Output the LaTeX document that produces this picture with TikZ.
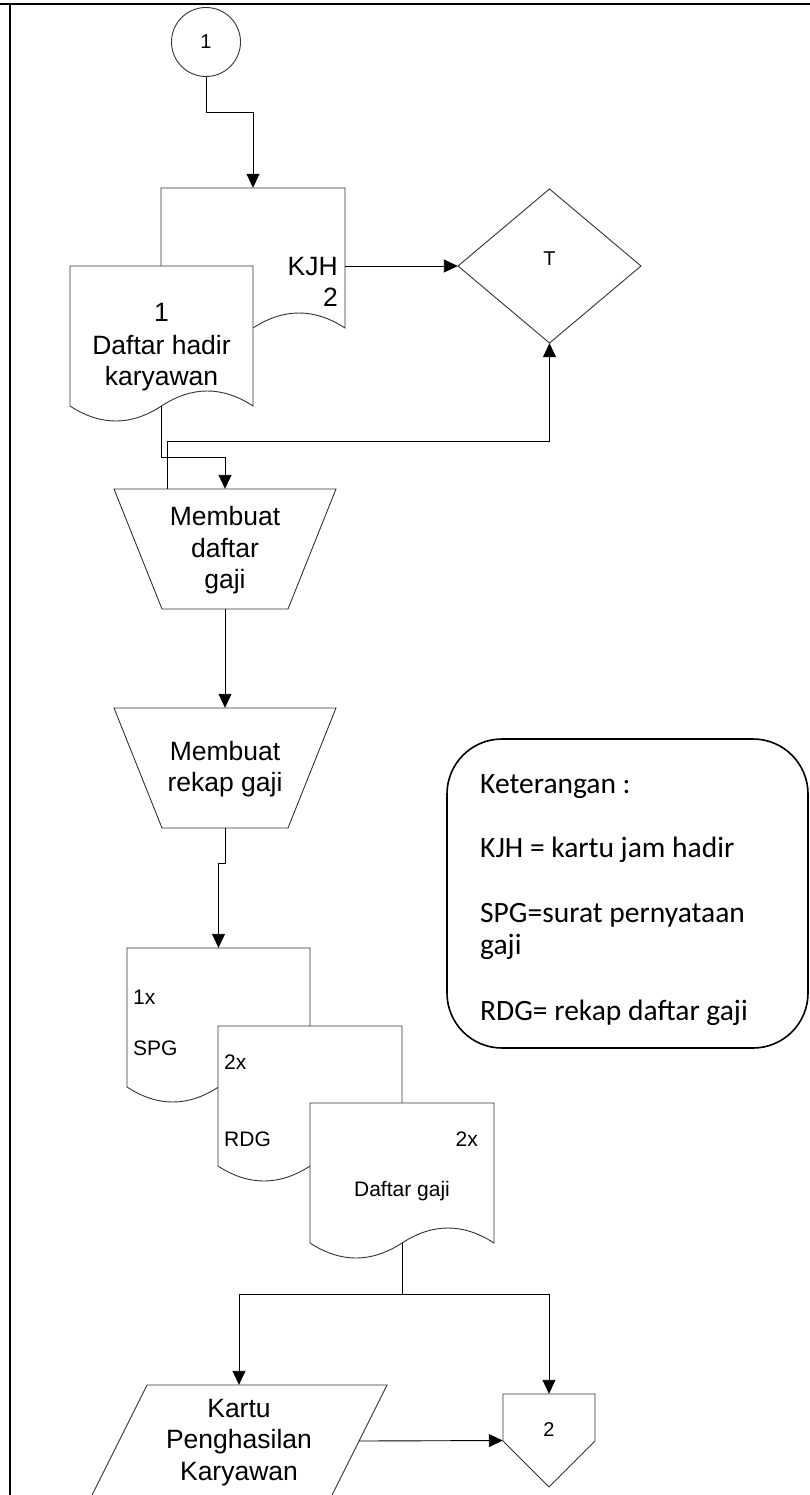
\documentclass[tikz,border=0pt]{standalone}
\usepackage{fontspec}
\setmainfont{Liberation Sans}
\newfontfamily\legendfont{Carlito}
\usetikzlibrary{arrows.meta,fit}

\tikzset{
  shapeline/.style={draw=black!80, line width=0.9pt},
  link/.style={draw=black, line width=0.9pt},
  conn/.style={link, -{Triangle[length=14pt,width=13pt]}},
  bigtxt/.style={font=\fontsize{26.5}{30}\selectfont, inner sep=0pt},
  smalltxt/.style={font=\fontsize{21}{24}\selectfont, inner sep=0pt},
  tinytxt/.style={font=\fontsize{20}{22}\selectfont, inner sep=0pt},
  legtxt/.style={font=\legendfont\fontsize{29.5}{34}\selectfont, inner sep=0pt, anchor=base west},
  box/.style={inner sep=0pt},
}

% document symbol: name, left, top, right, wave base line, wave amplitude
\newcommand{\docshape}[6]{%
  \draw[shapeline, fill=white] (#2,#3) -- (#4,#3) -- (#4,#5)
    .. controls ({#4-(#4-#2)/6},{#5-4*#6/3}) and ({#4-(#4-#2)/3},{#5-4*#6/3}) .. ({(#2+#4)/2},#5)
    .. controls ({#2+(#4-#2)/3},{#5+4*#6/3}) and ({#2+(#4-#2)/6},{#5+4*#6/3}) .. (#2,#5) -- cycle;
  \node[box, fit={(#2,#3) (#4,#5)}] (#1) {};
}

\begin{document}
\begin{tikzpicture}[x=1pt, y=-1pt]
  \useasboundingbox (0,0) rectangle (810,1495);
  \clip (0,0) rectangle (810,1495);

  % page frame
  \draw[line width=2pt] (0,4) -- (810,4);
  \draw[line width=2pt] (10,4) -- (10,1495);

  % connector 1
  \node[shapeline, circle, minimum size=69pt, inner sep=0pt, tinytxt] (c1) at (206,42) {1};

  % attendance card and attendance list
  \docshape{kjh}{161}{188}{345}{328}{15}
  \node[bigtxt, anchor=base east] (kjhA) at (338,276) {KJH};
  \node[bigtxt, anchor=base east] (kjhB) at (338,307) {2};

  \docshape{doc1}{70}{266}{253}{406}{15}
  \node[bigtxt, anchor=base] (doc1A) at (161.5,322) {1};
  \node[bigtxt, anchor=base] (doc1B) at (161.5,354) {Daftar hadir};
  \node[bigtxt, anchor=base] (doc1C) at (161.5,385) {karyawan};

  % archive / decision
  \draw[shapeline] (458,266) -- (549.5,189) -- (641,266) -- (549.5,343) -- cycle;
  \node[box, fit={(458,189) (641,343)}, tinytxt] (dia) {T};

  % manual operations
  \draw[shapeline] (114,489) -- (336,489) -- (288,609) -- (162,609) -- cycle;
  \node[box, fit={(114,489) (336,609)}] (t1) {};
  \node[bigtxt, anchor=base] (t1A) at (225,525) {Membuat};
  \node[bigtxt, anchor=base] (t1B) at (225,557) {daftar};
  \node[bigtxt, anchor=base] (t1C) at (225,588) {gaji};

  \draw[shapeline] (114,708) -- (336,708) -- (288,828) -- (162,828) -- cycle;
  \node[box, fit={(114,708) (336,828)}] (t2) {};
  \node[bigtxt, anchor=base] (t2A) at (225,760) {Membuat};
  \node[bigtxt, anchor=base] (t2B) at (225,791) {rekap gaji};

  % output documents
  \docshape{spg}{127}{948}{310}{1087}{15}
  \node[smalltxt, anchor=base west] (spgA) at (133,1004) {1x};
  \node[smalltxt, anchor=base west] (spgB) at (133,1055) {SPG};

  \docshape{rdg}{218}{1026}{402}{1166}{15}
  \node[smalltxt, anchor=base west] (rdgA) at (224,1069) {2x};
  \node[smalltxt, anchor=base west] (rdgB) at (224,1146) {RDG};

  \docshape{dg}{310}{1103}{494}{1243}{15}
  \node[smalltxt, anchor=base east] (dgA) at (478,1146) {2x};
  \node[smalltxt, anchor=base] (dgB) at (402,1196) {Daftar gaji};

  % income card (input/output)
  \draw[shapeline] (147,1385) -- (387,1385) -- (331,1497) -- (91,1497) -- cycle;
  \node[box, fit={(91,1385) (387,1497)}] (kpk) {};
  \coordinate (kpkR) at (359,1441);
  \node[bigtxt, anchor=base] (kpkA) at (239,1417) {Kartu};
  \node[bigtxt, anchor=base] (kpkB) at (239,1448) {Penghasilan};
  \node[bigtxt, anchor=base] (kpkC) at (239,1480) {Karyawan};

  % off-page connector 2
  \draw[shapeline] (503,1394) -- (595,1394) -- (595,1441) -- (549,1487) -- (503,1441) -- cycle;
  \node[box, fit={(503,1394) (595,1487)}] (pent) {};
  \node[tinytxt] (pentA) at (549,1429) {2};

  % legend
  \draw[line width=1.6pt, rounded corners=55pt] (447,739) rectangle (808,1048);
  \node[box, fit={(447,739) (808,1048)}] (leg) {};
  \node[legtxt] (legA) at (480,793) {Keterangan :};
  \node[legtxt] (legB) at (480,857.5) {KJH = kartu jam hadir};
  \node[legtxt] (legC) at (480,922) {SPG=surat pernyataan};
  \node[legtxt] (legD) at (480,954.5) {gaji};
  \node[legtxt] (legE) at (480,1020) {RDG= rekap daftar gaji};

  % flow lines
  \draw[conn] (c1.south) -- ++(0,36) -| (kjh.north);
  \draw[conn] (dia.west -| kjh.east) -- (dia.west);
  \draw[conn] (doc1.south) -- ++(0,51) -| (t1.north);
  \draw[conn] ([xshift=-58pt]t1.north) -- ++(0,-47) -| (dia.south);
  \draw[conn] (t1.south) -- (t2.north);
  \draw[conn] (t2.south) -- ++(0,35) -| (spg.north);
  \draw[link] (dg.south) -- ++(0,51) coordinate (split);
  \draw[conn] (split) -| (kpk.north);
  \draw[conn] (split) -| (pent.north);
  \draw[conn] (kpkR) -- (pent.west);
\end{tikzpicture}
\end{document}
